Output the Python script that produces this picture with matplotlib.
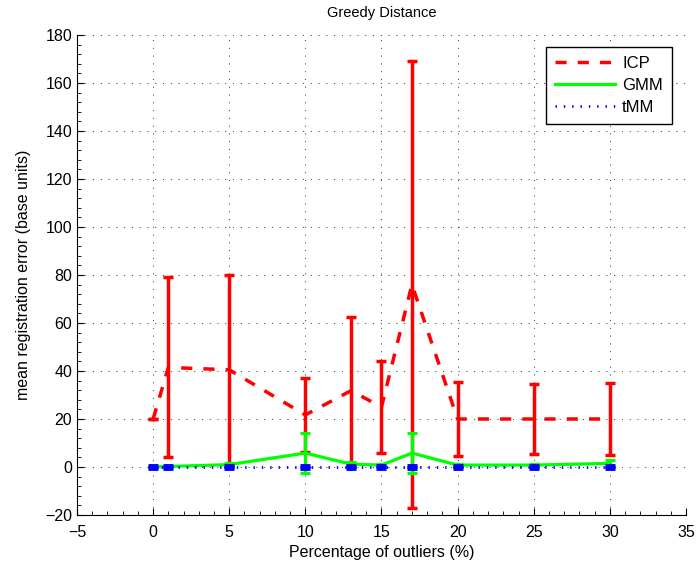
import numpy as np
import matplotlib
matplotlib.use('Agg')
import matplotlib.pyplot as plt
import matplotlib.ticker as ticker
from matplotlib.lines import Line2D

plt.rcParams['font.family'] = ['Liberation Sans', 'DejaVu Sans']

# outlier percentages
x = [0, 1, 5, 10, 13, 15, 17, 20, 25, 30]

icp_mean = [20, 41.5, 40.5, 21.7, 31.8, 25.0, 76.0, 20.0, 20.0, 20.0]
icp_std = [0, 37.5, 39.5, 15.5, 30.8, 19.0, 93.0, 15.5, 14.5, 15.0]

gmm_mean = [0, 0.2, 1.0, 5.8, 1.2, 0.8, 5.8, 0.8, 0.8, 1.5]
gmm_std = [0, 0.3, 0.8, 8.3, 1.0, 0.5, 8.4, 0.5, 0.5, 1.4]

tmm_mean = [0, 0, 0, 0, 0, 0, 0, 0, 0, 0]
tmm_std = [0.3, 0.3, 0.3, 0.3, 0.3, 0.3, 0.3, 0.3, 0.3, 0.3]

fig = plt.figure(figsize=(6.96, 5.70), dpi=100)
ax = fig.add_axes([0.1106, 0.0965, 0.875, 0.842])

ax.errorbar(x, icp_mean, yerr=icp_std, color='r', lw=2.5, ls=(0, (3.2, 3.2)),
            elinewidth=2.5, capsize=3.3, capthick=2.5, zorder=3)
ax.errorbar(x, gmm_mean, yerr=gmm_std, color='#00ff00', lw=2.3, ls='-',
            elinewidth=2.3, capsize=3.3, capthick=2.3, zorder=4)
ax.errorbar(x, tmm_mean, yerr=tmm_std, color='b', lw=2, ls=(0, (0.5, 2.5)),
            elinewidth=2, capsize=3.3, capthick=3.5, zorder=5)

ax.set_xlim(-5, 35)
ax.set_ylim(-20, 180)
ax.xaxis.set_major_locator(ticker.MultipleLocator(5))
ax.yaxis.set_major_locator(ticker.MultipleLocator(20))
ax.xaxis.set_minor_locator(ticker.MultipleLocator(1))
ax.yaxis.set_minor_locator(ticker.MultipleLocator(4))
ax.tick_params(which='both', direction='in', labelsize=11.5)
ax.tick_params(which='major', length=5)
ax.tick_params(which='minor', length=3)
ax.tick_params(axis='x', pad=7)
ax.spines['top'].set_visible(False)
ax.spines['right'].set_visible(False)
ax.grid(True, which='major', color='#333333', lw=0.7, ls=(0, (1, 7)))
ax.set_axisbelow(True)

ax.set_xlabel('Percentage of outliers (%)', fontsize=11.5, labelpad=4)
ax.set_ylabel('mean registration error (base units)', fontsize=11.5, labelpad=10)
ax.set_title('Greedy Distance', fontsize=10.5, pad=13)

handles = [
    Line2D([], [], color='r', lw=2.5, ls=(0, (3.2, 3.2))),
    Line2D([], [], color='#00ff00', lw=2.3, ls='-'),
    Line2D([], [], color='b', lw=2, ls=(0, (0.5, 2.5))),
]
leg = ax.legend(handles, ['ICP', 'GMM', 'tMM'], loc='upper right',
                bbox_to_anchor=(0.977, 0.975), borderaxespad=0,
                fontsize=12, fancybox=False, framealpha=1, edgecolor='k',
                handlelength=3.6, handletextpad=0.4, borderpad=0.55,
                labelspacing=0.4)
leg.get_frame().set_linewidth(1.0)

fig.savefig('out.png', dpi=100)
